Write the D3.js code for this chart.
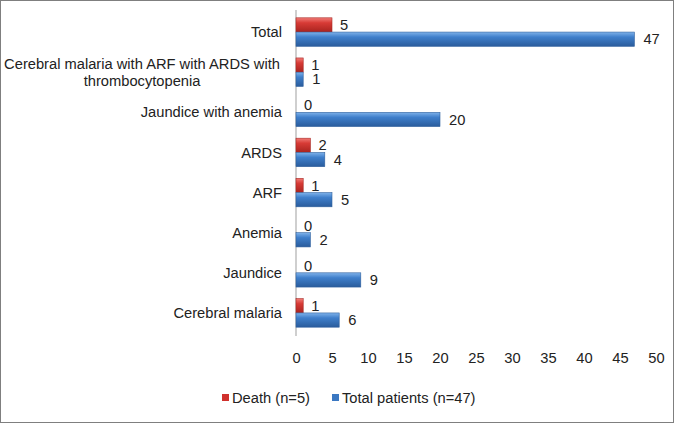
<!DOCTYPE html>
<html><head><meta charset="utf-8">
<script src="https://cdn.jsdelivr.net/npm/d3@7"></script>
<style>body{margin:0;background:#fff}svg{display:block;font-family:"Liberation Sans",Arial,sans-serif}</style>
</head><body>
<svg id="c" width="674" height="423"></svg>
<script>
const categories = ["Total","Cerebral malaria with ARF with ARDS with\nthrombocytopenia","Jaundice with anemia","ARDS","ARF","Anemia","Jaundice","Cerebral malaria"];
const deathValues = [5,1,0,2,1,0,0,1];
const totalValues = [47,1,20,4,5,2,9,6];
const seriesNames = ["Death (n=5)","Total patients (n=47)"];
const xTicks = [0,5,10,15,20,25,30,35,40,45,50];

const FS = 14.7;
const svg = d3.select("#c");
const W=674,H=423;
svg.append("rect").attr("x",0.5).attr("y",0.5).attr("width",W-1).attr("height",H-1).attr("fill","#fff").attr("stroke","#7f7f7f");

const defs = svg.append("defs");
function grad(id, c1, c2, c3){
  const g = defs.append("linearGradient").attr("id",id).attr("x1",0).attr("y1",0).attr("x2",0).attr("y2",1);
  g.append("stop").attr("offset","0%").attr("stop-color",c1);
  g.append("stop").attr("offset","35%").attr("stop-color",c2);
  g.append("stop").attr("offset","100%").attr("stop-color",c3);
}
grad("gr","#f07b76","#d83b36","#a8231f");
grad("gb","#7fb2ea","#3f7fcb","#2a5c9c");
const fills = ["url(#gr)","url(#gb)"];
const solid = ["#d0312d","#3b78c2"];

const x = d3.scaleLinear().domain([0,50]).range([296,656]);
const y0 = d3.scaleBand().domain(categories).range([12,333]).paddingInner(0.29).paddingOuter(0.145);
const y1 = d3.scaleBand().domain([0,1]).range([0,y0.bandwidth()]);

svg.append("line").attr("x1",x(0)).attr("x2",x(0)).attr("y1",10).attr("y2",336).attr("stroke","#bfbfbf").attr("stroke-width",1.5);

const xa = svg.append("g").attr("transform","translate(0,358)")
  .call(d3.axisBottom(x).tickValues(xTicks).tickSize(0).tickPadding(0));
xa.select(".domain").remove();
xa.selectAll("text").attr("font-size",FS).attr("fill","#222").attr("dy","0.35em").attr("font-family","Liberation Sans, Arial, sans-serif");

const lab = svg.append("g");
categories.forEach(c=>{
  const lines = c.split("\n");
  const cy = y0(c)+y0.bandwidth()/2;
  const t = lab.append("text").attr("font-size",FS).attr("fill","#222");
  if(lines.length===1){
    t.attr("x",282).attr("y",cy).attr("dy","0.35em").attr("text-anchor","end").text(c);
  } else {
    const tmp = lines.map(l=>{const tt=lab.append("text").attr("font-size",FS).text(l);const w=tt.node().getComputedTextLength();tt.remove();return w;});
    const mw = d3.max(tmp);
    const cx = 280 - mw/2;
    t.attr("text-anchor","middle");
    lines.forEach((l,i)=>{
      t.append("tspan").attr("x",cx).attr("y",cy + (i-(lines.length-1)/2)*17).attr("dy","0.35em").text(l);
    });
  }
});

const seriesVals=[deathValues,totalValues];
seriesVals.forEach((vals,si)=>{
  const g = svg.append("g");
  g.selectAll("rect").data(categories).join("rect")
    .attr("x",x(0)).attr("y",c=>y0(c)+y1(si)).attr("height",y1.bandwidth())
    .attr("width",(c,i)=>x(vals[i])-x(0))
    .attr("fill",fills[si]).attr("stroke",(c,i)=>vals[i]>0?d3.color(solid[si]).darker(0.6):"none").attr("stroke-width",0.6);
  g.selectAll("text").data(categories).join("text")
    .attr("x",(c,i)=>x(vals[i])+(si===0?8:9)).attr("y",c=>y0(c)+y1(si)+y1.bandwidth()/2)
    .attr("dy","0.35em").attr("font-size",FS).attr("fill","#222")
    .text((c,i)=>vals[i]);
});

const leg = svg.append("g").attr("transform","translate(0,398)");
const legX=[222,332];
seriesNames.forEach((n,i)=>{
  leg.append("rect").attr("x",legX[i]).attr("y",-4).attr("width",7).attr("height",7).attr("fill",solid[i]);
  leg.append("text").attr("x",legX[i]+10).attr("y",0).attr("dy","0.35em").attr("font-size",FS).attr("fill","#222").text(n);
});
</script>
</body></html>
